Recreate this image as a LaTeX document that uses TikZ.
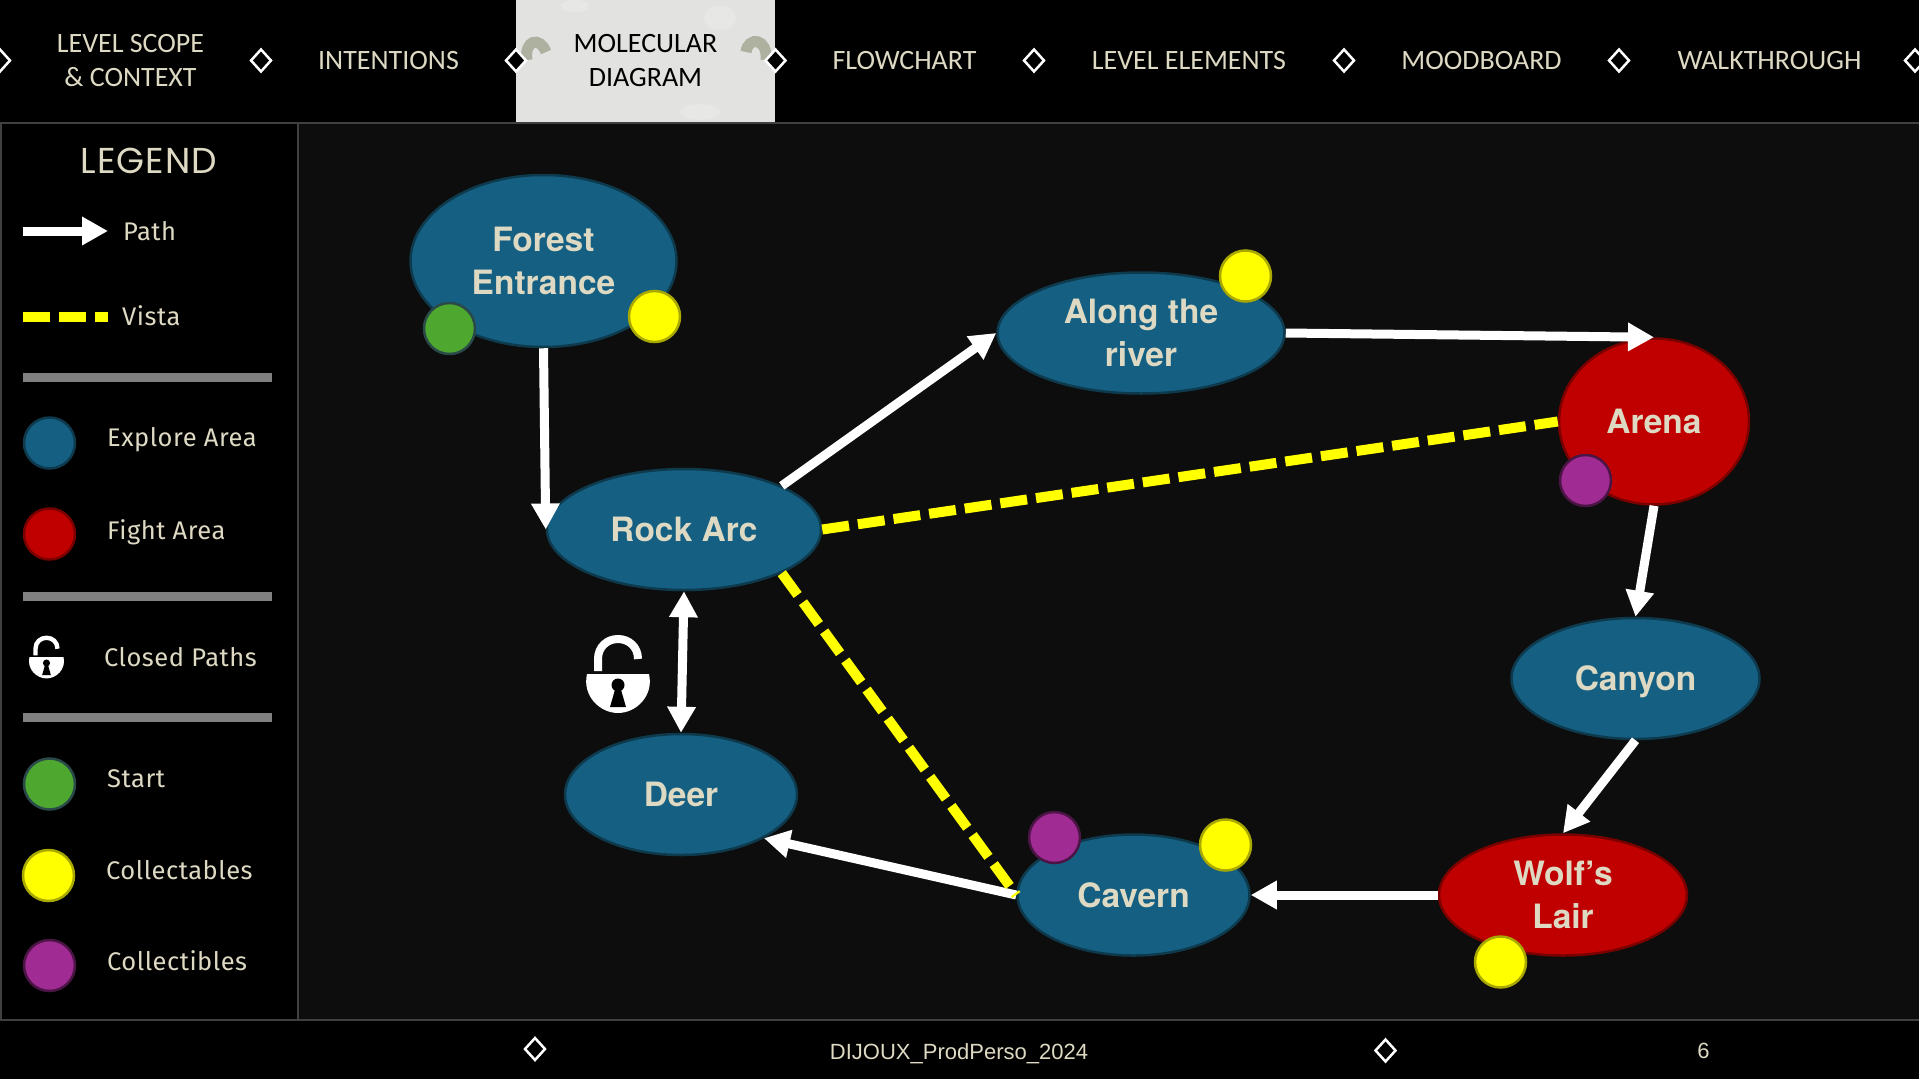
\documentclass[tikz,border=0pt]{standalone}
\usepackage{fontspec}
\usepackage{xcolor}
\usepackage{tikz}
\usetikzlibrary{shapes.geometric, arrows.meta, positioning}
\setmainfont{Carlito}
\newfontfamily\legendfont[LetterSpace=2]{Fira Sans}
\newfontfamily\titlefont[LetterSpace=3]{Poppins}
\newfontfamily\areafont{TeX Gyre Heros}
\newfontfamily\footfont{Liberation Sans}
\definecolor{eggshell}{HTML}{DDD9C3}
\definecolor{canvas}{HTML}{0D0D0D}
\definecolor{panelline}{HTML}{404040}
\definecolor{tabfill}{HTML}{E2E2E0}
\definecolor{tabmark}{HTML}{AEB0A0}
\definecolor{explorefill}{HTML}{156082}
\definecolor{exploreline}{HTML}{0E3A4E}
\definecolor{fightfill}{HTML}{C00000}
\definecolor{fightline}{HTML}{7A0000}
\definecolor{startfill}{HTML}{4EA72E}
\definecolor{startline}{HTML}{2A4A4A}
\definecolor{yellowfill}{HTML}{FFFF00}
\definecolor{yellowline}{HTML}{A8A800}
\definecolor{purplefill}{HTML}{A02B93}
\definecolor{purpleline}{HTML}{4A1444}

\begin{document}
\begin{tikzpicture}[
    x=1pt, y=-1pt,
    zona/.style={ellipse, draw, line width=2.5pt, inner sep=0pt, align=center, text=eggshell,
                 font=\areafont\bfseries\fontsize{33.5}{43}\selectfont},
    explora/.style={zona, fill=explorefill, draw=exploreline},
    pelea/.style={zona, fill=fightfill, draw=fightline},
    punto/.style={circle, line width=2.5pt, minimum size=51pt, inner sep=0pt},
    inicio/.style={punto, fill=startfill, draw=startline},
    amarillo/.style={punto, fill=yellowfill, draw=yellowline},
    morado/.style={punto, fill=purplefill, draw=purpleline},
    rombo/.style={diamond, draw=white, fill=black, line width=2.5pt, inner sep=0pt,
                  minimum width=21pt, minimum height=23pt},
    pestana/.style={align=center, text=eggshell, font=\fontsize{28}{34}\selectfont},
    leyenda/.style={anchor=west, inner sep=0pt, text=eggshell, font=\legendfont\fontsize{25.5}{30}\selectfont},
    camino/.style={-{Triangle[length=26pt,width=27pt]}, white, line width=9pt},
    doble/.style={{Triangle[length=26pt,width=27pt]}-{Triangle[length=26pt,width=27pt]}, white, line width=9pt},
    vista/.style={yellowfill, line width=10pt, dash pattern=on 27pt off 9pt},
    barra/.style={draw=gray, line width=9pt},
    padlock/.pic={
        \draw[white, line width=#1] (-20,-3) -- (-20,-15) .. controls (-20,-27) and (-11,-35) .. (0,-35)
            .. controls (11,-35) and (20,-27) .. (20,-15);
        \fill[white] (-31,0) -- (31,0) .. controls (36,22) and (18,39) .. (0,39)
            .. controls (-18,39) and (-36,22) .. (-31,0) -- cycle;
        \fill[black] (0,11) circle (6.5) (-2.5,14) -- (2.5,14) -- (8,33) -- (-8,33) -- cycle;
    }
]
    \useasboundingbox (0,0) rectangle (1919,1079);
    \fill[black] (0,0) rectangle (1919,1079);
    \fill[canvas] (298,123) rectangle (1919,1020);
    \fill[tabfill] (516,0) rectangle (775,122);
    \fill[white, opacity=.2] (720,18) ellipse (16 and 12) (575,6) ellipse (14 and 6) (700,112) ellipse (20 and 8);
    \draw[tabmark, line width=11pt] (527,60) .. controls (524,40) and (540,36) .. (546,52);
    \draw[tabmark, line width=11pt] (746,52) .. controls (748,36) and (768,38) .. (766,60);
    \draw[panelline, line width=2pt] (0,123) -- (1919,123) (0,1020) -- (1919,1020)
        (298,123) -- (298,1020) (1,123) -- (1,1020);

    % top bar
    \node[pestana] (scope)   at (130.5,61)  {LEVEL SCOPE\\ \& CONTEXT};
    \node[pestana] (intent)  at (388.5,61)  {INTENTIONS};
    \node[pestana, text=black] (molecular) at (645.5,61) {MOLECULAR\\ DIAGRAM};
    \node[pestana] (flow)    at (904.5,61)  {FLOWCHART};
    \node[pestana] (element) at (1189,61) {LEVEL ELEMENTS};
    \node[pestana] (mood)    at (1481.5,61) {MOODBOARD};
    \node[pestana] (walk)    at (1769.5,61) {WALKTHROUGH};
    \foreach \posx/\nombre in {0/a, 261/b, 516/c, 775.5/d, 1034/e, 1344/f, 1619/g, 1915/h}
        \node[rombo] (rombo\nombre) at (\posx,60.5) {};

    % legend
    \node[text=eggshell, font=\titlefont\fontsize{36}{40}\selectfont] (legend) at (149,161) {LEGEND};
    \coordinate (pathini) at (23,231);
    \coordinate (pathfin) at (108,231);
    \coordinate (vistaini) at (23,317);
    \coordinate (vistafin) at (108,317);
    \draw[camino] (pathini) -- (pathfin);
    \draw[vista] (vistaini) -- (vistafin);
    \node[leyenda] (pathtxt)  at (123,231) {Path};
    \node[leyenda] (vistatxt) at (122,316) {Vista};
    \draw[barra] (23,377.5) -- (272,377.5);
    \node[explora, circle, minimum size=51pt] (lexplore) at (49.5,443) {};
    \node[pelea, circle, minimum size=51pt] (lfight) at (49.5,534) {};
    \node[leyenda] (exploretxt) at (107,440) {Explore Area};
    \node[leyenda] (fighttxt)   at (107,532) {Fight Area};
    \draw[barra] (23,596.5) -- (272,596.5);
    \pic[scale=.55] at (46.5,657) {padlock={4.4pt}};
    \node[leyenda] (closedtxt) at (104,657) {Closed Paths};
    \draw[barra] (23,717.5) -- (272,717.5);
    \node[inicio]   (lstart) at (49.5,784) {};
    \node[amarillo] (lyellow) at (48.5,875.5) {};
    \node[morado]   (lpurple) at (49.5,965.5) {};
    \node[leyenda] (starttxt)  at (107,779) {Start};
    \node[leyenda] (yellowtxt) at (106,870) {Collectables};
    \node[leyenda] (purpletxt) at (107,961) {Collectibles};

    % areas
    \node[explora, minimum width=266pt, minimum height=172pt] (forest) at (543.5,261) {Forest\\ Entrance};
    \node[explora, minimum width=287pt, minimum height=121pt] (river)  at (1141,333) {Along the\\ river};
    \node[pelea,   minimum width=190pt, minimum height=166pt] (arena)  at (1654,421.5) {Arena};
    \node[explora, minimum width=274pt, minimum height=121pt] (rock)   at (684,529.5) {Rock Arc};
    \node[explora, minimum width=232pt, minimum height=121pt] (deer)   at (681,794.5) {Deer};
    \node[explora, minimum width=248pt, minimum height=121pt, text depth=0pt] (canyon) at (1635.5,678.5) {Canyon};
    \node[explora, minimum width=232pt, minimum height=121pt] (cavern) at (1133.5,895) {Cavern};
    \node[pelea,   minimum width=248pt, minimum height=121pt] (wolf)   at (1563,895) {Wolf’s\\ Lair};

    \node[inicio]   (forestini) at (449.5,328.5) {};
    \node[amarillo] (forestcol) at (654.5,316.5) {};
    \node[amarillo] (rivercol)  at (1245.5,276) {};
    \node[morado]   (arenacol)  at (1585.5,480.5) {};
    \node[morado]   (cavernmor) at (1054.5,837.5) {};
    \node[amarillo] (cavernama) at (1225.5,845) {};
    \node[amarillo] (wolfcol)   at (1500.5,962) {};

    \pic at (618,674) {padlock={8pt}};

    \draw[camino] (forest.south) -- (rock.west);
    \draw[camino] (rock.north east) -- (river.west);
    \draw[camino] (river.east) -- (arena.north);
    \draw[camino] (arena.south) -- (canyon.north);
    \draw[camino] (canyon.south) -- (wolf.north);
    \draw[camino] (wolf.west) -- (cavern.east);
    \draw[camino] (cavern.west) -- (deer.south east);
    \draw[doble] (rock.south) -- (deer.north);
    \draw[vista] (rock.east) -- (arena.west);
    \draw[vista] (rock.south east) -- (cavern.west);

    % bottom bar
    \node[rombo] (rombofoota) at (535,1049) {};
    \node[rombo] (rombofootb) at (1385.5,1050.5) {};
    \node[text=eggshell, font=\footfont\fontsize{22}{26}\selectfont] (foot) at (959,1054) {DIJOUX\_ProdPerso\_2024};
    \node[text=eggshell, font=\footfont\fontsize{22}{26}\selectfont] (page) at (1703.5,1051) {6};
\end{tikzpicture}
\end{document}
